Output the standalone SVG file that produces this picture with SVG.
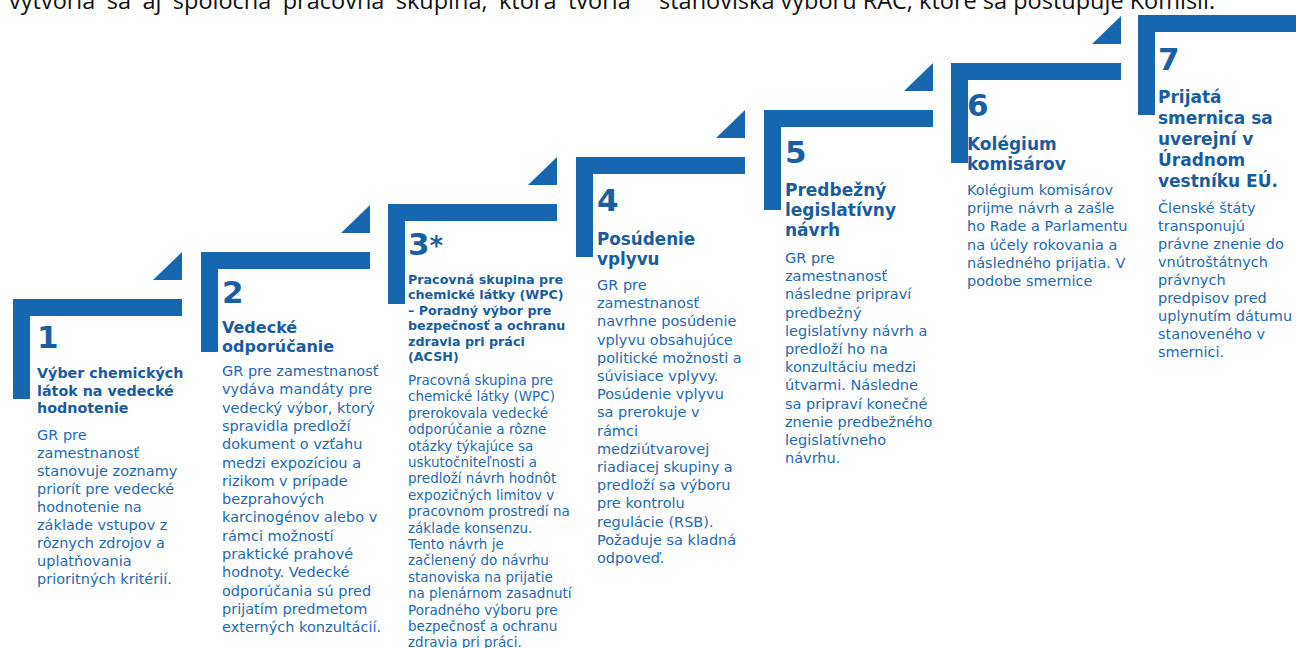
<svg xmlns="http://www.w3.org/2000/svg" width="1296" height="648" viewBox="0 0 1296 648">
<style>
.bar{fill:#1666b0}
.num{font-family:'DejaVu Sans',Verdana,sans-serif;font-weight:bold;font-size:31px;fill:#1a5fa4}
.tt{font-family:'DejaVu Sans',Verdana,sans-serif;font-weight:bold;fill:#1a5c9e}
.bd{font-family:'DejaVu Sans',Verdana,sans-serif;fill:#1f69b0}
.top{font-family:'Open Sans','Liberation Sans',sans-serif;font-size:23.5px;fill:#111}
</style>
<rect width="1296" height="648" fill="#fff"/>
<g id="intro">
<text class="top" x="9" y="9" word-spacing="5.3">vytvoria sa aj spoločná pracovná skupina, ktorá tvoria</text>
<text class="top" x="659" y="9">stanoviska výboru RAC, ktoré sa postupuje Komisii.</text>
</g>
<g id="connectors">
<polygon class="bar" points="153,280 182,252 182,280"/>
<polygon class="bar" points="341,233 370,205 370,233"/>
<polygon class="bar" points="528,185 557,157 557,185"/>
<polygon class="bar" points="716,138 745,110 745,138"/>
<polygon class="bar" points="904,91 933,63 933,91"/>
<polygon class="bar" points="1092,44 1121,16 1121,44"/>
</g>
<g id="step1">
<path class="bar" d="M13,299H182V316H30V399H13Z"/>
<text class="num" x="37" y="348">1</text>
<text class="tt" font-size="14.3"><tspan x="37" y="378">Výber chemických</tspan><tspan x="37" y="395.5">látok na vedecké</tspan><tspan x="37" y="413">hodnotenie</tspan></text>
<text class="bd" font-size="14.5"><tspan x="37" y="440">GR pre</tspan><tspan x="37" dy="18">zamestnanosť</tspan><tspan x="37" dy="18">stanovuje zoznamy</tspan><tspan x="37" dy="18">priorít pre vedecké</tspan><tspan x="37" dy="18">hodnotenie na</tspan><tspan x="37" dy="18">základe vstupov z</tspan><tspan x="37" dy="18">rôznych zdrojov a</tspan><tspan x="37" dy="18">uplatňovania</tspan><tspan x="37" dy="18">prioritných kritérií.</tspan></text>
</g>
<g id="step2">
<path class="bar" d="M201,252H370V269H218V352H201Z"/>
<text class="num" x="222" y="303">2</text>
<text class="tt" font-size="16"><tspan x="222" y="333">Vedecké</tspan><tspan x="222" y="352">odporúčanie</tspan></text>
<text class="bd" font-size="14.5"><tspan x="222" y="376">GR pre zamestnanosť</tspan><tspan x="222" dy="18.3">vydáva mandáty pre</tspan><tspan x="222" dy="18.3">vedecký výbor, ktorý</tspan><tspan x="222" dy="18.3">spravidla predloží</tspan><tspan x="222" dy="18.3">dokument o vzťahu</tspan><tspan x="222" dy="18.3">medzi expozíciou a</tspan><tspan x="222" dy="18.3">rizikom v prípade</tspan><tspan x="222" dy="18.3">bezprahových</tspan><tspan x="222" dy="18.3">karcinogénov alebo v</tspan><tspan x="222" dy="18.3">rámci možností</tspan><tspan x="222" dy="18.3">praktické prahové</tspan><tspan x="222" dy="18.3">hodnoty. Vedecké</tspan><tspan x="222" dy="18.3">odporúčania sú pred</tspan><tspan x="222" dy="18.3">prijatím predmetom</tspan><tspan x="222" dy="18.3">externých konzultácií.</tspan></text>
</g>
<g id="step3">
<path class="bar" d="M388,204H557V221H405V304H388Z"/>
<text class="num" x="408" y="255">3<tspan font-size="26">*</tspan></text>
<text class="tt" font-size="12.7"><tspan x="408" y="284">Pracovná skupina pre</tspan><tspan x="408" dy="15.4">chemické látky (WPC)</tspan><tspan x="408" dy="15.4">– Poradný výbor pre</tspan><tspan x="408" dy="15.4">bezpečnosť a ochranu</tspan><tspan x="408" dy="15.4">zdravia pri práci</tspan><tspan x="408" dy="15.4">(ACSH)</tspan></text>
<text class="bd" font-size="13.5"><tspan x="408" y="385">Pracovná skupina pre</tspan><tspan x="408" dy="16.4">chemické látky (WPC)</tspan><tspan x="408" dy="16.4">prerokovala vedecké</tspan><tspan x="408" dy="16.4">odporúčanie a rôzne</tspan><tspan x="408" dy="16.4">otázky týkajúce sa</tspan><tspan x="408" dy="16.4">uskutočniteľnosti a</tspan><tspan x="408" dy="16.4">predloží návrh hodnôt</tspan><tspan x="408" dy="16.4">expozičných limitov v</tspan><tspan x="408" dy="16.4">pracovnom prostredí na</tspan><tspan x="408" dy="16.4">základe konsenzu.</tspan><tspan x="408" dy="16.4">Tento návrh je</tspan><tspan x="408" dy="16.4">začlenený do návrhu</tspan><tspan x="408" dy="16.4">stanoviska na prijatie</tspan><tspan x="408" dy="16.4">na plenárnom zasadnutí</tspan><tspan x="408" dy="16.4">Poradného výboru pre</tspan><tspan x="408" dy="16.4">bezpečnosť a ochranu</tspan><tspan x="408" dy="16.4">zdravia pri práci.</tspan></text>
</g>
<g id="step4">
<path class="bar" d="M576,157H745V174H593V257H576Z"/>
<text class="num" x="597" y="211">4</text>
<text class="tt" font-size="16.8"><tspan x="597" y="245">Posúdenie</tspan><tspan x="597" y="265">vplyvu</tspan></text>
<text class="bd" font-size="14.5"><tspan x="597" y="290">GR pre</tspan><tspan x="597" dy="18.2">zamestnanosť</tspan><tspan x="597" dy="18.2">navrhne posúdenie</tspan><tspan x="597" dy="18.2">vplyvu obsahujúce</tspan><tspan x="597" dy="18.2">politické možnosti a</tspan><tspan x="597" dy="18.2">súvisiace vplyvy.</tspan><tspan x="597" dy="18.2">Posúdenie vplyvu</tspan><tspan x="597" dy="18.2">sa prerokuje v</tspan><tspan x="597" dy="18.2">rámci</tspan><tspan x="597" dy="18.2">medziútvarovej</tspan><tspan x="597" dy="18.2">riadiacej skupiny a</tspan><tspan x="597" dy="18.2">predloží sa výboru</tspan><tspan x="597" dy="18.2">pre kontrolu</tspan><tspan x="597" dy="18.2">regulácie (RSB).</tspan><tspan x="597" dy="18.2">Požaduje sa kladná</tspan><tspan x="597" dy="18.2">odpoveď.</tspan></text>
</g>
<g id="step5">
<path class="bar" d="M764,110H933V127H781V210H764Z"/>
<text class="num" x="785" y="163">5</text>
<text class="tt" font-size="17"><tspan x="785" y="196">Predbežný</tspan><tspan x="785" y="216">legislatívny</tspan><tspan x="785" y="236">návrh</tspan></text>
<text class="bd" font-size="14.5"><tspan x="785" y="263">GR pre</tspan><tspan x="785" dy="18.2">zamestnanosť</tspan><tspan x="785" dy="18.2">následne pripraví</tspan><tspan x="785" dy="18.2">predbežný</tspan><tspan x="785" dy="18.2">legislatívny návrh a</tspan><tspan x="785" dy="18.2">predloží ho na</tspan><tspan x="785" dy="18.2">konzultáciu medzi</tspan><tspan x="785" dy="18.2">útvarmi. Následne</tspan><tspan x="785" dy="18.2">sa pripraví konečné</tspan><tspan x="785" dy="18.2">znenie predbežného</tspan><tspan x="785" dy="18.2">legislatívneho</tspan><tspan x="785" dy="18.2">návrhu.</tspan></text>
</g>
<g id="step6">
<path class="bar" d="M951,63H1121V80H968V163H951Z"/>
<text class="num" x="967" y="116">6</text>
<text class="tt" font-size="17"><tspan x="967" y="150">Kolégium</tspan><tspan x="967" y="170">komisárov</tspan></text>
<text class="bd" font-size="14.5"><tspan x="967" y="195">Kolégium komisárov</tspan><tspan x="967" dy="18.2">prijme návrh a zašle</tspan><tspan x="967" dy="18.2">ho Rade a Parlamentu</tspan><tspan x="967" dy="18.2">na účely rokovania a</tspan><tspan x="967" dy="18.2">následného prijatia. V</tspan><tspan x="967" dy="18.2">podobe smernice</tspan></text>
</g>
<g id="step7">
<path class="bar" d="M1138,15H1296V32H1155V115H1138Z"/>
<text class="num" x="1158" y="70">7</text>
<text class="tt" font-size="17"><tspan x="1158" y="103">Prijatá</tspan><tspan x="1158" y="124">smernica sa</tspan><tspan x="1158" y="145">uverejní v</tspan><tspan x="1158" y="166">Úradnom</tspan><tspan x="1158" y="187">vestníku EÚ.</tspan></text>
<text class="bd" font-size="14.5"><tspan x="1158" y="213">Členské štáty</tspan><tspan x="1158" dy="18">transponujú</tspan><tspan x="1158" dy="18">právne znenie do</tspan><tspan x="1158" dy="18">vnútroštátnych</tspan><tspan x="1158" dy="18">právnych</tspan><tspan x="1158" dy="18">predpisov pred</tspan><tspan x="1158" dy="18">uplynutím dátumu</tspan><tspan x="1158" dy="18">stanoveného v</tspan><tspan x="1158" dy="18">smernici.</tspan></text>
</g>
</svg>
